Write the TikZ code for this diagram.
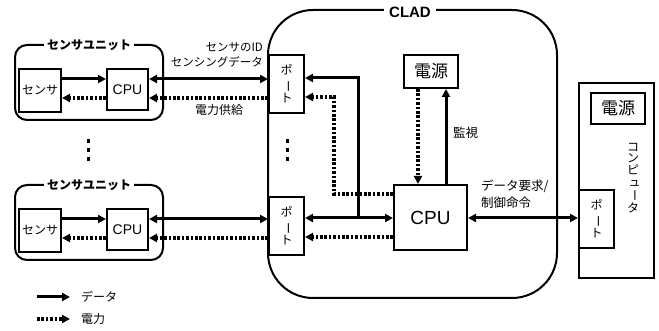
\documentclass[tikz,border=0pt]{standalone}
\usepackage{fontspec}
\usepackage{graphicx}
\setmainfont{Liberation Sans}
\newfontfamily\jp{Noto Sans CJK JP}
\newcommand\vbarch{\rotatebox[origin=c]{-90}{ー}}
\usetikzlibrary{arrows.meta}
\begin{document}
\begin{tikzpicture}[x=1pt,y=-1pt,
  box/.style={draw,line width=2pt,inner sep=0pt,minimum width=#1},
  unit/.style={draw,line width=2pt,rounded corners=12pt},
  onetip/.style={-{Triangle[length=8pt,width=8pt]}},
  twotip/.style={{Triangle[length=8pt,width=8pt]}-{Triangle[length=8pt,width=8pt]}},
  dataln/.style={draw,line width=3pt,onetip},
  databi/.style={draw,line width=3pt,twotip},
  powerln/.style={draw,line width=3.4pt,dash pattern=on 2.6pt off 1.8pt,onetip},
  lbl/.style={font=\jp\fontsize{11.5}{12}\selectfont,inner sep=0pt},
  ttl/.style={font=\jp\bfseries\fontsize{12}{13}\selectfont,fill=white,inner sep=3pt},
  porttxt/.style={align=center,font=\jp\fontsize{12}{14}\selectfont},
  vdots/.style={fill,minimum width=3pt,minimum height=4pt,inner sep=0pt}]
\useasboundingbox (0,0) rectangle (659,331);

% sensor units
\draw[unit] (15,45) rectangle (163,120);
\node[ttl] (t1) at (89,45) {センサユニット};
\node[box=42pt,minimum height=43pt,font=\jp\fontsize{12}{12}\selectfont] (s1) at (40,90.5) {センサ};
\node[box=41pt,minimum height=41pt,font=\fontsize{14}{14}\selectfont] (c1) at (127.5,89.5) {CPU};

\draw[unit] (15,185) rectangle (163,260);
\node[ttl] (t2) at (89,185) {センサユニット};
\node[box=42pt,minimum height=43pt,font=\jp\fontsize{12}{12}\selectfont] (s2) at (40,230.5) {センサ};
\node[box=41pt,minimum height=41pt,font=\fontsize{14}{14}\selectfont] (c2) at (127.5,229.5) {CPU};

% CLAD
\draw[line width=2pt,rounded corners=45pt] (268,10) rectangle (557,298);
\node[font=\bfseries\fontsize{15}{15}\selectfont,fill=white,inner sep=5pt] (tc) at (410,12) {CLAD};
\node[box=35pt,minimum height=58pt,porttxt] (p1) at (286.5,84) {ポ\\\vbarch\\ト};
\node[box=35pt,minimum height=58pt,porttxt] (p2) at (286.5,226) {ポ\\\vbarch\\ト};
\node[box=54pt,minimum height=33pt,font=\jp\fontsize{17}{17}\selectfont] (pw) at (431,71.5) {電源};
\node[box=73pt,minimum height=65pt,font=\fontsize{19}{19}\selectfont] (cpu) at (430.5,217.5) {CPU};

% computer
\node[box=75pt,minimum height=195pt] (comp) at (616.5,180.5) {};
\node[box=54pt,minimum height=31pt,font=\jp\fontsize{17}{17}\selectfont] (cpw) at (618,108.5) {電源};
\node[box=35pt,minimum height=58pt,porttxt] (cp) at (596.5,219) {ポ\\\vbarch\\ト};
\node[align=center,font=\jp\fontsize{12}{11.8}\selectfont,inner sep=0pt] (ct) at (633,178) {コ\\ン\\ピ\\\hspace*{3pt}ュ\\\vbarch\\タ};

% unit 1 connections
\path[dataln] ([yshift=11.5pt]s1.east) -- ([yshift=11.5pt]s1.east -| c1.west);
\path[powerln] ([yshift=-8.5pt]c1.west) -- ([yshift=-8.5pt]c1.west -| s1.east);
\path[databi] ([yshift=10.5pt]c1.east) -- ([yshift=10.5pt]c1.east -| p1.west);
\path[powerln] ([yshift=-14pt]p1.west) -- ([yshift=-14pt]p1.west -| c1.east);
\node[lbl,anchor=east] (l1) at (263,47) {センサのID};
\node[lbl,anchor=east] (l2) at (263,62) {センシングデータ};
\node[lbl,font=\jp\fontsize{12}{12}\selectfont] (l3) at (219,110) {電力供給};

% unit 2 connections
\path[dataln] ([yshift=11.5pt]s2.east) -- ([yshift=11.5pt]s2.east -| c2.west);
\path[powerln] ([yshift=-8.5pt]c2.west) -- ([yshift=-8.5pt]c2.west -| s2.east);
\path[databi] ([yshift=10.5pt]c2.east) -- ([yshift=10.5pt]c2.east -| p2.west);
\path[powerln] ([yshift=-12pt]p2.west) -- ([yshift=-12pt]p2.west -| c2.east);

% CLAD internal
\coordinate (j) at (358,218);
\coordinate (j2) at (358,78);
\path[databi] (p2.east |- j) -- (cpu.west |- j);
\path[dataln] (j) -- (j2) -- (j2 -| p1.east);
\coordinate (k) at (334,194);
\coordinate (k2) at (334,97);
\path[powerln] (cpu.west |- k) -- (k) -- (k2) -- (k2 -| p1.east);
\path[powerln] ([yshift=-19.5pt]cpu.west) -- ([yshift=-19.5pt]cpu.west -| p2.east);
\path[powerln] ([xshift=-13pt]pw.south) -- ([xshift=-13pt]pw.south |- cpu.north);
\path[dataln] ([xshift=15.5pt]cpu.north) -- ([xshift=15.5pt]cpu.north |- pw.south);
\node[lbl,anchor=west,font=\jp\fontsize{12.5}{12.5}\selectfont] (mon) at (453,133) {監視};

% CPU to computer
\path[databi] ([yshift=-0.5pt]cpu.east) -- ([yshift=-0.5pt]cpu.east -| cp.west);
\node[lbl,anchor=west,font=\jp\fontsize{12.5}{12.5}\selectfont] (r1) at (481,186) {データ要求/};
\node[lbl,anchor=west,font=\jp\fontsize{12.5}{12.5}\selectfont] (r2) at (481,203) {制御命令};

% vertical dots
\foreach \yy/\nm in {141/a,150/b,159/c}{
  \node[vdots] (dl\nm) at (88,\yy) {};
  \node[vdots] (dr\nm) at (287,\yy) {};
}

% legend
\coordinate (la) at (37,297); \coordinate (lb) at (70,297);
\coordinate (lc) at (37,319); \coordinate (ld) at (70,319);
\path[dataln] (la) -- (lb);
\path[powerln] (lc) -- (ld);
\node[lbl,anchor=west,font=\jp\fontsize{12}{12}\selectfont] (lg1) at (81,297) {データ};
\node[lbl,anchor=west,font=\jp\fontsize{12}{12}\selectfont] (lg2) at (81,319) {電力};
\end{tikzpicture}
\end{document}
